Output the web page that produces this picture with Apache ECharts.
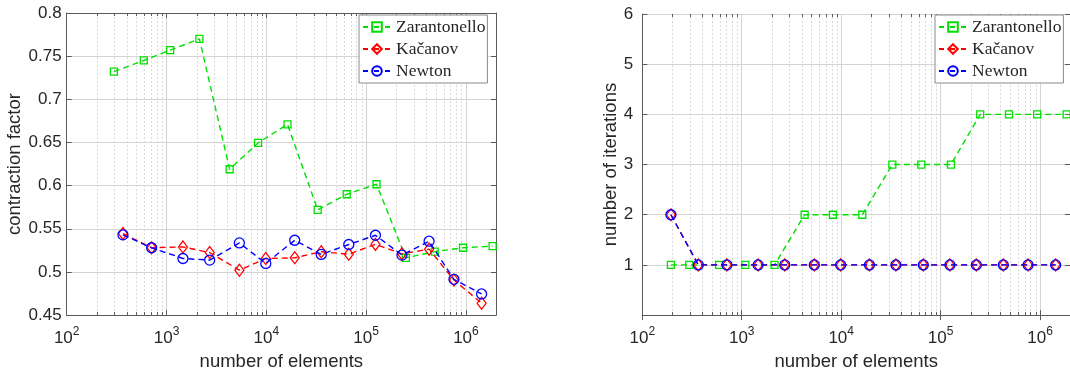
<!DOCTYPE html>
<html>
<head>
<meta charset="utf-8">
<script src="https://cdn.jsdelivr.net/npm/echarts@6/dist/echarts.min.js"></script>
<style>
html,body{margin:0;padding:0;background:#fff;}
#c{width:1070px;height:376px;}
</style>
</head>
<body>
<div id="c"></div>
<script>
// ---- data ----
const seriesNames = ['Zarantonello', 'Kačanov', 'Newton'];
// number of elements (x positions)
const elemsZar = [194, 297, 592, 1088, 2135, 4290, 8255, 16300, 32700, 63900, 127000, 250000, 487000, 935000, 1850000];
const elemsKN = [194, 366, 709, 1461, 2708, 5370, 9875, 19250, 35500, 67000, 124000, 228500, 427000, 758000, 1435000];
// left plot: contraction factor (from 2nd mesh on)
const contrZar = [0.732, 0.745, 0.757, 0.770, 0.619, 0.6495, 0.671, 0.572, 0.590, 0.6016, 0.5164, 0.5235, 0.528, 0.530];
const contrKac = [0.5444, 0.528, 0.529, 0.5225, 0.502, 0.5156, 0.5164, 0.5234, 0.5205, 0.532, 0.521, 0.5264, 0.4906, 0.4638];
const contrNew = [0.543, 0.528, 0.5156, 0.5137, 0.5336, 0.5099, 0.5367, 0.5203, 0.5318, 0.5425, 0.5195, 0.5356, 0.4914, 0.4745];
// right plot: number of iterations
const iterZar = [1, 1, 1, 1, 1, 2, 2, 2, 3, 3, 3, 4, 4, 4, 4];
const iterKac = [2, 1, 1, 1, 1, 1, 1, 1, 1, 1, 1, 1, 1, 1, 1];
const iterNew = [2, 1, 1, 1, 1, 1, 1, 1, 1, 1, 1, 1, 1, 1, 1];
// axes
const xMin = 100, xMax = 2000000;
const minorX = [];
for (let d = 100; d < xMax; d *= 10) for (let k = 2; k <= 9; k++) if (d * k < xMax) minorX.push(d * k);

// ---- styling ----
const txt = '#262626';
const axC = '#5a5a5a';
const sans = 'Liberation Sans';
const colors = {Zar: '#00e000', Kac: '#ff0000', New: '#0000ff'};

function pairs(xs, ys) { return ys.map((y, i) => [xs[i], y]); }

function xLabelFmt(v) {
  const e = Math.log10(v), r = Math.round(e);
  if (Math.abs(e - r) < 1e-6) return '{b|10}{s|' + r + '}';
  return '';
}
const xRich = {
  b: {fontSize: 17, fontFamily: sans, color: txt, verticalAlign: 'bottom'},
  s: {fontSize: 12, fontFamily: sans, color: txt, verticalAlign: 'bottom', padding: [0, 0, 9, 0]}
};

function xAxes(gi, name) {
  return [{
    type: 'log', logBase: 10, gridIndex: gi, min: xMin, max: xMax, position: 'bottom',
    axisLine: {show: true, lineStyle: {color: axC, width: 1}},
    axisTick: {show: true, inside: true, length: 5, lineStyle: {color: axC}},
    axisLabel: {formatter: xLabelFmt, rich: xRich, margin: 11, showMaxLabel: false},
    splitLine: {show: true, lineStyle: {color: '#d4d4d4', width: 1}},
    name: name, nameLocation: 'middle', nameGap: 36,
    nameTextStyle: {fontSize: 18.5, fontFamily: sans, color: txt}
  }, {
    type: 'log', logBase: 10, gridIndex: gi, min: xMin, max: xMax, position: 'top',
    axisLine: {show: true, lineStyle: {color: axC, width: 1}},
    axisTick: {show: true, inside: true, length: 5, lineStyle: {color: axC}},
    axisLabel: {show: false}, splitLine: {show: false}
  }];
}
function yAxes(gi, min, max, interval, name, fmt, nameGap, margin) {
  return [{
    type: 'value', gridIndex: gi, min: min, max: max, interval: interval, position: 'left',
    axisLine: {show: true, lineStyle: {color: axC, width: 1}},
    axisTick: {show: true, inside: true, length: 5, lineStyle: {color: axC}},
    axisLabel: {formatter: fmt, fontSize: 17, fontFamily: sans, color: txt, margin: margin},
    splitLine: {show: true, lineStyle: {color: '#d4d4d4', width: 1}},
    name: name, nameLocation: 'middle', nameGap: nameGap,
    nameTextStyle: {fontSize: 18.5, fontFamily: sans, color: txt}
  }, {
    type: 'value', gridIndex: gi, min: min, max: max, interval: interval, position: 'right',
    axisLine: {show: true, lineStyle: {color: axC, width: 1}},
    axisTick: {show: true, inside: true, length: 5, lineStyle: {color: axC}},
    axisLabel: {show: false}, splitLine: {show: false}
  }];
}

function minorSeries(xi, yi, ymin, ymax) {
  return {
    type: 'custom', xAxisIndex: xi, yAxisIndex: yi, silent: true, z: 1,
    data: minorX.map(v => [v, ymin]),
    renderItem: function (params, api) {
      const x = api.value(0);
      const p0 = api.coord([x, ymin]), p1 = api.coord([x, ymax]);
      const px = Math.round(p0[0]) + 0.5;
      return {type: 'group', children: [
        {type: 'line', shape: {x1: px, y1: p0[1], x2: px, y2: p1[1]}, style: {stroke: '#d9d9d9', lineWidth: 1, lineDash: [2, 2]}},
        {type: 'line', shape: {x1: px, y1: p0[1], x2: px, y2: p0[1] - 3}, style: {stroke: axC, lineWidth: 1}},
        {type: 'line', shape: {x1: px, y1: p1[1], x2: px, y2: p1[1] + 3}, style: {stroke: axC, lineWidth: 1}}
      ]};
    }
  };
}

function lineSeries(name, xi, yi, data, color, symbol, size, z) {
  return {
    name: name, type: 'line', xAxisIndex: xi, yAxisIndex: yi, data: data, z: z,
    symbol: symbol, symbolSize: size, showAllSymbol: true, animation: false,
    lineStyle: {color: color, width: 1.4, type: [6, 4]},
    itemStyle: {color: 'rgba(255,255,255,0)', borderColor: color, borderWidth: 1.3},
    emphasis: {disabled: true}
  };
}

function legendAt(left, top) {
  return {
    left: left, top: top, orient: 'vertical', data: seriesNames,
    backgroundColor: '#ffffff', borderColor: '#8a8a8a', borderWidth: 1,
    padding: [3, 2, 3, 3], itemGap: 4, itemWidth: 28, itemHeight: 12,
    lineStyle: {type: [5, 6]},
    textStyle: {fontFamily: 'Liberation Serif', fontSize: 17.5, color: txt, lineHeight: 17},
    selectedMode: false
  };
}

const chart = echarts.init(document.getElementById('c'), null, {renderer: 'canvas'});
const option = {
  animation: false,
  backgroundColor: '#ffffff',
  grid: [
    {left: 66.7, top: 13, width: 429.3, height: 304, containLabel: false},
    {left: 642.3, top: 14, width: 429.5, height: 302.7, containLabel: false}
  ],
  xAxis: [].concat(xAxes(0, 'number of elements'), xAxes(1, 'number of elements')),
  yAxis: [].concat(
    yAxes(0, 0.45, 0.8, 0.05, 'contraction factor', v => String(parseFloat(v.toFixed(2))), 42, 5),
    yAxes(1, 0, 6, 1, 'number of iterations', v => (v === 0 ? '' : String(v)), 15, 9)
  ),
  legend: [legendAt(359, 15), legendAt(935, 15)],
  series: [
    minorSeries(0, 0, 0.45, 0.8),
    minorSeries(2, 2, 0, 6),
    lineSeries('Zarantonello', 0, 0, pairs(elemsZar.slice(1), contrZar), colors.Zar, 'rect', 7, 3),
    lineSeries('Kačanov', 0, 0, pairs(elemsKN.slice(1), contrKac), colors.Kac, 'diamond', [9, 12], 4),
    lineSeries('Newton', 0, 0, pairs(elemsKN.slice(1), contrNew), colors.New, 'circle', 10, 5),
    lineSeries('Zarantonello', 2, 2, pairs(elemsZar, iterZar), colors.Zar, 'rect', 7, 3),
    lineSeries('Kačanov', 2, 2, pairs(elemsKN, iterKac), colors.Kac, 'diamond', [9, 12], 4),
    lineSeries('Newton', 2, 2, pairs(elemsKN, iterNew), colors.New, 'circle', 10, 5)
  ]
};
chart.setOption(option);
</script>
</body>
</html>
